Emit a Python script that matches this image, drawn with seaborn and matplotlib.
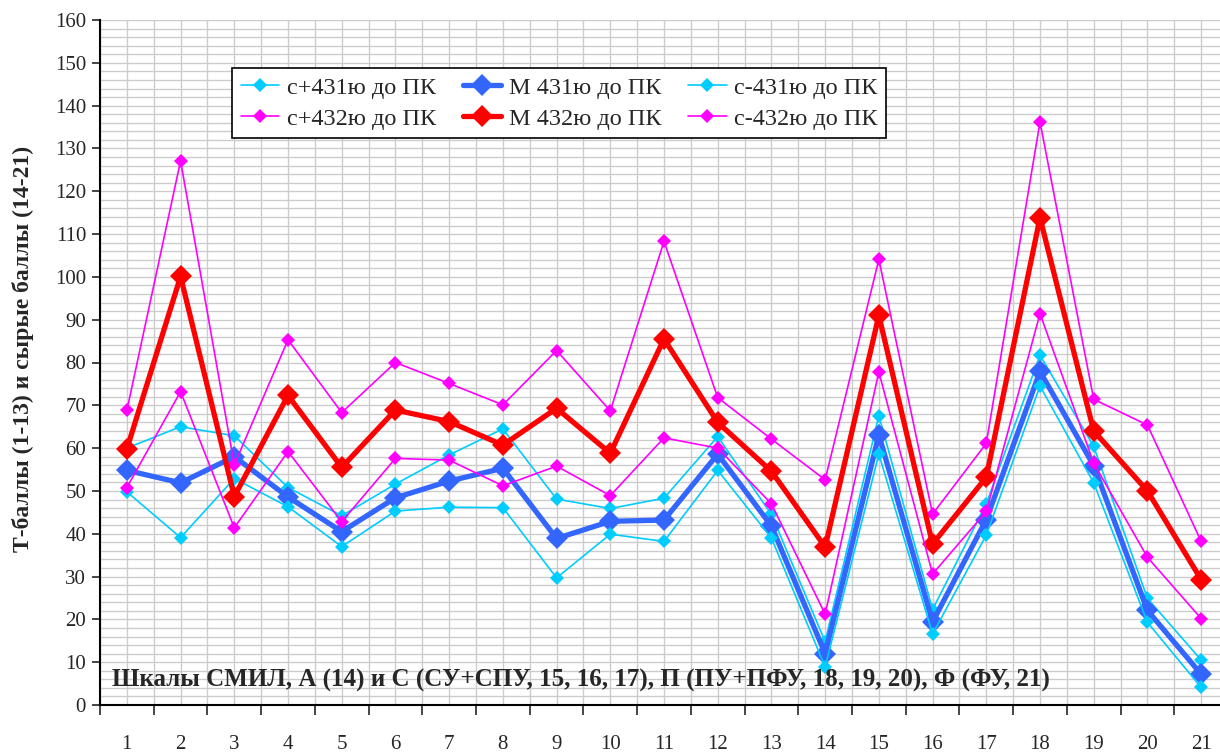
import matplotlib
matplotlib.use("Agg")
import matplotlib.pyplot as plt
from matplotlib.ticker import MultipleLocator
import pandas as pd
import seaborn as sns

# scales 1..21
scales = list(range(1, 22))

c_plus_431 = [60.0, 65.0, 62.9, 50.8, 44.2, 51.6, 58.4, 64.5, 48.1, 45.9, 48.3,
              62.7, 44.5, 14.8, 67.6, 22.3, 47.0, 81.7, 60.4, 24.9, 10.5]
m_431 = [54.8, 51.9, 58.0, 48.6, 40.5, 48.4, 52.3, 55.3, 38.9, 42.9, 43.2,
         58.6, 41.8, 12.0, 63.1, 19.4, 43.3, 77.9, 55.9, 22.1, 7.2]
c_minus_431 = [49.8, 39.1, 52.9, 46.3, 37.0, 45.3, 46.2, 46.1, 29.7, 39.9, 38.2,
               54.8, 39.0, 8.9, 58.6, 16.6, 39.7, 74.5, 51.9, 19.3, 4.1]

c_plus_432 = [68.8, 127.1, 56.1, 85.3, 68.3, 80.0, 75.1, 70.1, 82.8, 68.7, 108.3,
              71.8, 62.1, 52.6, 104.1, 44.6, 61.1, 136.2, 71.4, 65.4, 38.2]
m_432 = [59.8, 100.1, 48.7, 72.3, 55.5, 68.9, 66.2, 60.7, 69.3, 58.8, 85.5,
         66.0, 54.6, 36.9, 91.0, 37.6, 53.2, 113.8, 64.0, 50.0, 29.3]
c_minus_432 = [50.8, 73.2, 41.4, 59.2, 42.8, 57.6, 57.2, 51.2, 55.8, 48.9, 62.4,
               60.0, 47.0, 21.2, 77.8, 30.6, 45.2, 91.4, 56.5, 34.5, 20.2]

series = [
    ("с+431ю до ПК", c_plus_431, "#00ccff", 1.2, 7),
    ("М 431ю до ПК", m_431, "#3366ff", 3.8, 11),
    ("с-431ю до ПК", c_minus_431, "#00ccff", 1.2, 7),
    ("с+432ю до ПК", c_plus_432, "#ff00ff", 1.2, 7),
    ("М 432ю до ПК", m_432, "#ff0000", 3.8, 11),
    ("с-432ю до ПК", c_minus_432, "#ff00ff", 1.2, 7),
]

sns.set_style("white")
plt.rcParams['font.family'] = ['Liberation Serif', 'DejaVu Serif']

fig = plt.figure(figsize=(12.2, 7.53), dpi=100)
ax = fig.add_axes([100 / 1220, 1 - 705 / 753, 1128 / 1220, 685 / 753])

for name, vals, col, lw, ms in series:
    df = pd.DataFrame({"x": scales, "y": vals})
    sns.lineplot(data=df, x="x", y="y", ax=ax, color=col, linewidth=lw,
                 marker="D", markersize=ms, markeredgewidth=0, label=name)

ax.set_xlim(0.5, 21.5)
ax.set_ylim(0, 160)

ax.yaxis.set_major_locator(MultipleLocator(10))
ax.yaxis.set_minor_locator(MultipleLocator(2))
ax.set_xticks(scales)
ax.set_xticks([i + 0.5 for i in range(0, 22)], minor=True)

ax.grid(which="both", color="#cccccc", linewidth=1.0)
ax.set_axisbelow(True)

ax.tick_params(axis="y", which="major", direction="out", length=6, width=1.2,
               labelsize=15, left=True, pad=4)
ax.tick_params(axis="y", which="minor", length=0)
ax.tick_params(axis="x", which="major", length=0, labelsize=15, pad=21.5)
ax.tick_params(axis="x", which="minor", direction="out", length=7, width=1.2,
               bottom=True)

for s in ["left", "bottom"]:
    ax.spines[s].set_color("black")
    ax.spines[s].set_linewidth(1.5)
for s in ["top", "right"]:
    ax.spines[s].set_visible(False)

ax.set_xlabel("")
ax.set_ylabel("Т-баллы (1-13) и сырые баллы (14-21)", fontsize=17,
              fontweight="bold")
ax.yaxis.set_label_coords(-66 / 1128, (705 - 349) / 685)

ax.text(0.72, 5.8, "Шкалы СМИЛ, А (14) и С (СУ+СПУ, 15, 16, 17), П (ПУ+ПФУ, 18, 19, 20), Ф (ФУ, 21)",
        fontsize=18, fontweight="bold", va="center", ha="left")

h, l = ax.get_legend_handles_labels()
order = [0, 3, 1, 4, 2, 5]
leg = ax.legend([h[i] for i in order], [l[i] for i in order], ncol=3,
                loc="upper left", bbox_to_anchor=((232 - 100) / 1128, (705 - 68) / 685),
                borderaxespad=0, fontsize=17.5, frameon=True, fancybox=False,
                shadow=False, edgecolor="black", framealpha=1, handlelength=1.6,
                columnspacing=1.1, handletextpad=0.3, borderpad=0.35,
                labelspacing=0.38)
leg.get_frame().set_linewidth(1.2)

fig.savefig("out.png", dpi=100)
